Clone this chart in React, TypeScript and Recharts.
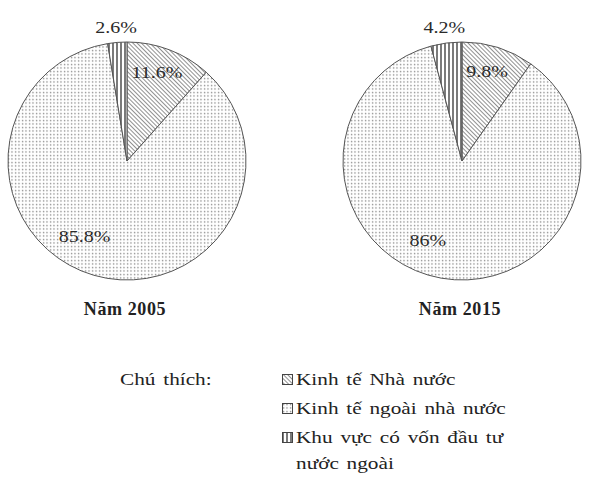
import React from "react";
import { Cell, Pie, PieChart } from "recharts";

const categories = [
  "Kinh tế Nhà nước",
  "Kinh tế ngoài nhà nước",
  "Khu vực có vốn đầu tư nước ngoài",
];
const values2005 = [11.6, 85.8, 2.6];
const values2015 = [9.8, 86, 4.2];
const years = ["Năm 2005", "Năm 2015"];
const legendTitle = "Chú thích:";

const patternIds = ["hatch-state", "dots-private", "lines-fdi"];
const serif = "'Liberation Serif', 'Times New Roman', serif";
const RADIAN = Math.PI / 180;

function Patterns() {
  return (
    <svg width={0} height={0} style={{ position: "absolute" }}>
      <defs>
        <pattern id="hatch-state" width={3} height={3} patternUnits="userSpaceOnUse" patternTransform="rotate(-45)">
          <rect width={3} height={3} fill="#fff" />
          <line x1={0} y1={0} x2={0} y2={3} stroke="#555" strokeWidth={1.3} />
        </pattern>
        <pattern id="dots-private" width={3.5} height={3.5} patternUnits="userSpaceOnUse">
          <rect width={3.5} height={3.5} fill="#fff" />
          <circle cx={1.5} cy={1.5} r={0.75} fill="#888" />
        </pattern>
        <pattern id="lines-fdi" width={4} height={4} patternUnits="userSpaceOnUse">
          <rect width={4} height={4} fill="#fff" />
          <line x1={1} y1={0} x2={1} y2={4} stroke="#222" strokeWidth={1.2} />
        </pattern>
      </defs>
    </svg>
  );
}

// label spots: inside the two big slices, above the pie for the thin one
function renderLabel(props: any) {
  const { cx, cy, midAngle, outerRadius, index, value } = props;
  let angle = midAngle + 2;
  let r = outerRadius * 0.78;
  if (index === 1) {
    angle = midAngle - 13;
    r = outerRadius * 0.73;
  }
  if (index === 2) {
    angle = midAngle;
    r = outerRadius + 15;
  }
  const x = cx + r * Math.cos(-angle * RADIAN);
  const y = cy + r * Math.sin(-angle * RADIAN);
  return (
    <text
      x={0}
      y={0}
      transform={`translate(${x},${y}) scale(1.25,1)`}
      textAnchor="middle"
      dominantBaseline="central"
      fill="#2a2a2a"
      fontSize={16}
      style={{ fontFamily: serif }}
    >
      {`${value}%`}
    </text>
  );
}

function YearPie({ values, cx }: { values: number[]; cx: number }) {
  const rows = categories.map((name, i) => ({ name, value: values[i] }));
  return (
    <Pie
      key={cx}
      data={rows}
      dataKey="value"
      cx={cx}
      cy={161}
      outerRadius={119}
      startAngle={90}
      endAngle={-270}
      stroke="#555"
      strokeWidth={1}
      label={renderLabel}
      labelLine={false}
      isAnimationActive={false}
    >
      {rows.map((row, i) => (
        <Cell key={row.name} fill={`url(#${patternIds[i]})`} />
      ))}
    </Pie>
  );
}

const stretched = {
  display: "inline-block",
  transform: "scaleX(1.25)",
  transformOrigin: "left top",
  wordSpacing: 2,
} as const;

export default function App() {
  const legendIcon = (i: number) => (
    <svg width={11} height={11} style={{ marginRight: 3, flex: "none", marginTop: 9 }}>
      <rect x={0.5} y={0.5} width={10} height={10} fill={`url(#${patternIds[i]})`} stroke="#444" />
    </svg>
  );

  return (
    <div style={{ position: "absolute", left: 0, top: 0, width: 600, height: 482, background: "#fff", fontFamily: serif, color: "#222" }}>
      <Patterns />
      <PieChart width={600} height={300} margin={{ top: 0, right: 0, bottom: 0, left: 0 }}>
        {YearPie({ values: values2005, cx: 127 })}
        {YearPie({ values: values2015, cx: 462 })}
      </PieChart>
      {years.map((y, i) => (
        <div
          key={y}
          style={{ position: "absolute", top: 299, left: i === 0 ? 25 : 360, width: 200, textAlign: "center", fontWeight: "bold", fontSize: 18, letterSpacing: 0.6 }}
        >
          {y}
        </div>
      ))}
      <div style={{ position: "absolute", left: 120, top: 365, fontSize: 17, lineHeight: "29px" }}>
        <span style={stretched}>{legendTitle}</span>
      </div>
      <div style={{ position: "absolute", left: 282, top: 365, fontSize: 17, width: 300 }}>
        {categories.map((c, i) => (
          <div key={c} style={{ display: "flex", alignItems: "flex-start", minHeight: 29 }}>
            {legendIcon(i)}
            <span style={{ ...stretched, width: i === 2 ? 170 : 240, lineHeight: i === 2 ? "26px" : "29px", marginTop: i === 2 ? 2 : 0 }}>
              {c}
            </span>
          </div>
        ))}
      </div>
    </div>
  );
}
